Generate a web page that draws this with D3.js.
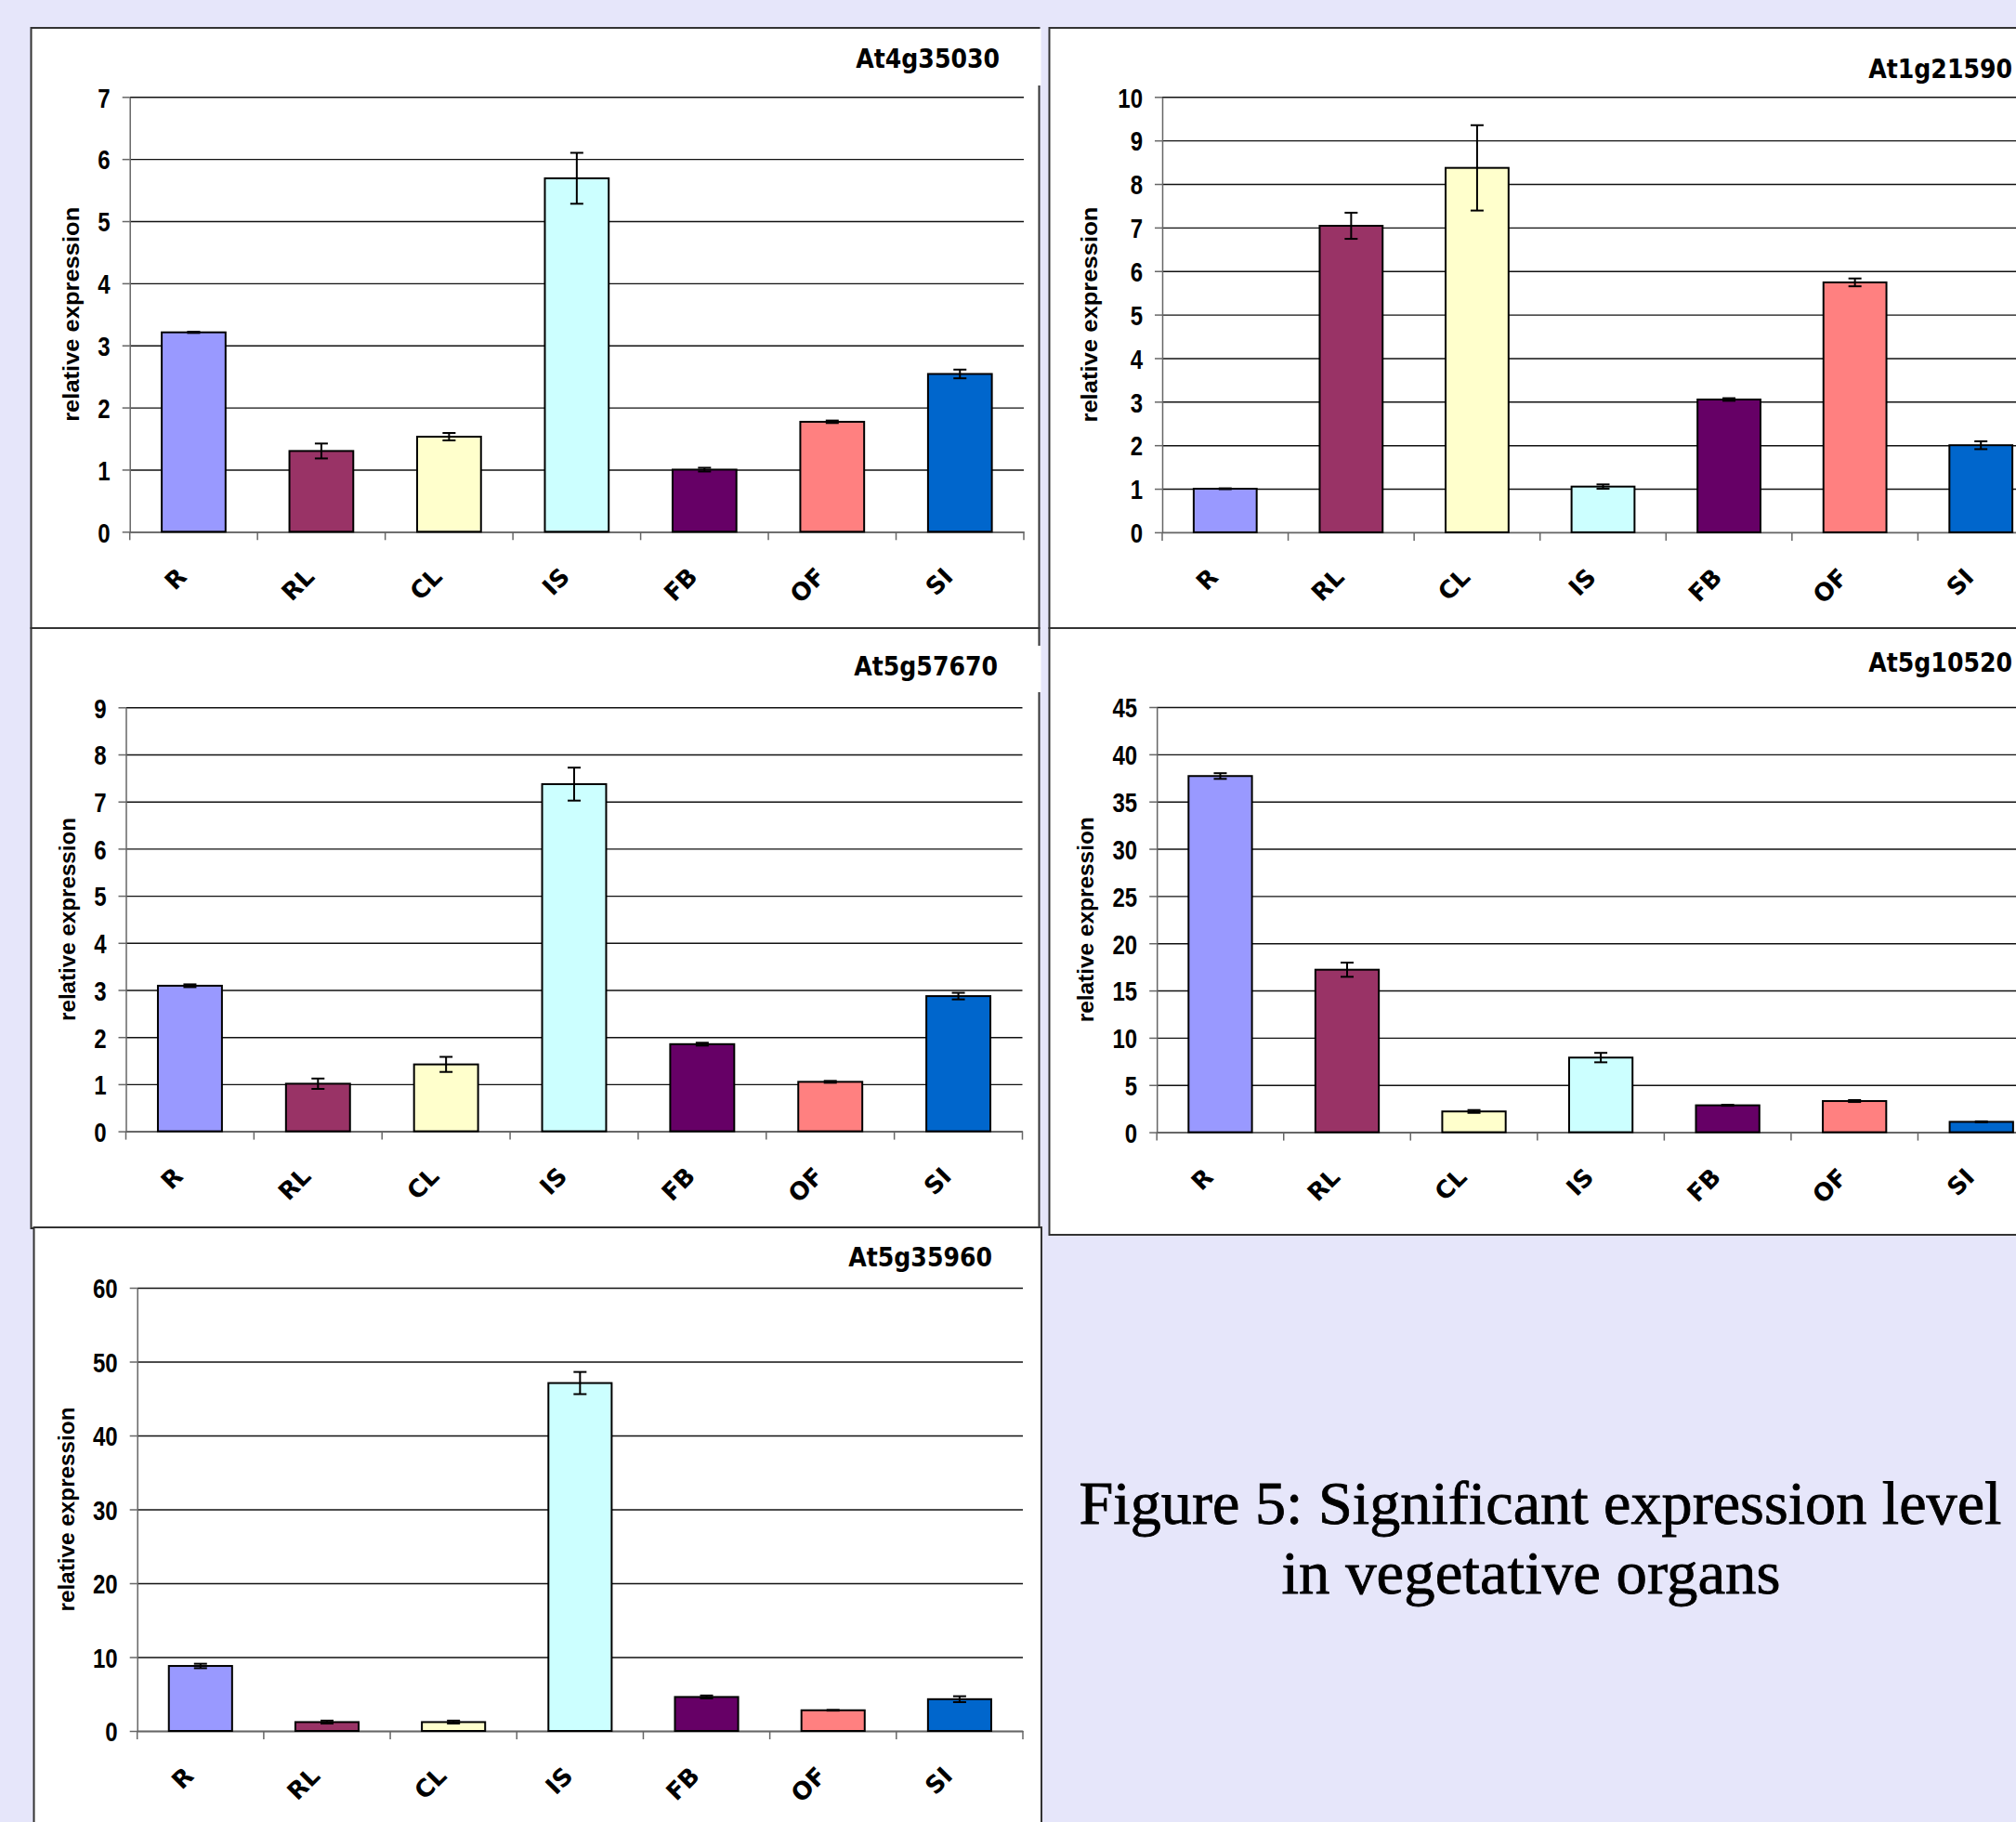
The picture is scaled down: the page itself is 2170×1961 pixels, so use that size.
<!DOCTYPE html>
<html>
<head>
<meta charset="utf-8">
<title>Figure 5: Significant expression level in vegetative organs</title>
<script src="https://cdn.jsdelivr.net/npm/d3@7"></script>
<style>
  body { margin: 0; background: #e6e6fa; }
  svg { display: block; }
  .tick-y { font-family: "Liberation Sans", Arial, sans-serif; font-weight: bold; font-size: 30px; fill: #000; }
  .tick-x { font-family: "DejaVu Sans", Verdana, sans-serif; font-weight: bold; font-size: 26px; fill: #000; }
  .gene { font-family: "DejaVu Sans Condensed", "DejaVu Sans", sans-serif; font-weight: bold; font-size: 28px; fill: #000; }
  .ylab { font-family: "Liberation Sans", Arial, sans-serif; font-weight: bold; font-size: 24px; fill: #000; }
  .caption { font-family: "Liberation Serif", "Times New Roman", serif; font-size: 66px; fill: #000; stroke: #000; stroke-width: 0.8px; }
</style>
</head>
<body>
<div id="fig"></div>
<script>
const width = 2170, height = 1961;

// organs on the x axis and their Excel colours
const organs = ["R", "RL", "CL", "IS", "FB", "OF", "SI"];
const organColors = ["#9999ff", "#993366", "#ffffcc", "#ccffff", "#660066", "#ff8080", "#0066cc"];

// gene panels, in reading order
const genes = ["At4g35030", "At1g21590", "At5g57670", "At5g10520", "At5g35960"];

// relative expression (mean) and error per organ
const at4g35030 = [3.21, 1.30, 1.53, 5.69, 1.00, 1.77, 2.54];
const at4g35030Err = [0.01, 0.12, 0.06, 0.41, 0.03, 0.02, 0.07];
const at1g21590 = [1.00, 7.04, 8.37, 1.05, 3.05, 5.74, 2.00];
const at1g21590Err = [0.01, 0.30, 0.98, 0.05, 0.03, 0.09, 0.09];
const at5g57670 = [3.09, 1.01, 1.42, 7.37, 1.85, 1.05, 2.87];
const at5g57670Err = [0.03, 0.11, 0.16, 0.35, 0.03, 0.02, 0.07];
const at5g10520 = [37.7, 17.2, 2.2, 7.9, 2.85, 3.3, 1.1];
const at5g10520Err = [0.3, 0.75, 0.15, 0.5, 0.05, 0.1, 0.05];
const at5g35960 = [8.8, 1.2, 1.2, 47.1, 4.6, 2.8, 4.3];
const at5g35960Err = [0.3, 0.2, 0.2, 1.5, 0.2, 0.05, 0.4];

// y axis ranges
const yMax = [7, 10, 9, 45, 60];
const yStep = [1, 1, 1, 5, 10];

const values = [at4g35030, at1g21590, at5g57670, at5g10520, at5g35960];
const errors = [at4g35030Err, at1g21590Err, at5g57670Err, at5g10520Err, at5g35960Err];

// where each panel sits on the page
const layout = [
  { box: [33.5, 30, 1118.5, 676], ax: 139.7, right: 1102, top: 104.3, bottom: 572.3, title: [1076, 73], labX: 77, labLen: 231, gap: [31, 92] },
  { box: [1129.5, 30, 2300, 676], ax: 1251, right: 2200, top: 104.3, bottom: 572.9, title: [2166, 84], labX: 1173, labLen: 232 },
  { box: [33.5, 676, 1118.5, 1322], ax: 135.5, right: 1100.5, top: 761.3, bottom: 1217.6, title: [1074, 727], labX: 73, labLen: 219, gap: [695, 745] },
  { box: [1129.5, 676, 2300, 1329], ax: 1245.2, right: 2201, top: 761, bottom: 1218.6, title: [2166, 723], labX: 1169, labLen: 221 },
  { box: [36.5, 1321, 1121, 2100], ax: 147.7, right: 1101, top: 1386, bottom: 1863, title: [1068, 1363], labX: 72, labLen: 220 }
];

const narrow = 0.8; // squeeze for the narrow tick font

const svg = d3.select("#fig").append("svg")
  .attr("width", width)
  .attr("height", height);

svg.append("rect")
  .attr("width", width).attr("height", height)
  .attr("fill", "#e6e6fa");

genes.forEach(function(gene, i) {
  const L = layout[i];
  const g = svg.append("g");

  g.append("rect")
    .attr("x", L.box[0]).attr("y", L.box[1])
    .attr("width", L.box[2] - L.box[0]).attr("height", L.box[3] - L.box[1])
    .attr("fill", "#fff")
    .attr("stroke", "#333")
    .attr("stroke-width", 2);

  // white notch where the title box breaks the frame
  if (L.gap) {
    g.append("rect")
      .attr("x", L.box[2] - 1.5).attr("y", L.gap[0])
      .attr("width", 3.5).attr("height", L.gap[1] - L.gap[0])
      .attr("fill", "#fff");
  }

  const x = d3.scaleBand().domain(organs).range([L.ax, L.right]).padding(0);
  const y = d3.scaleLinear().domain([0, yMax[i]]).range([L.bottom, L.top]);
  const yTicks = d3.range(0, yMax[i] + yStep[i] / 2, yStep[i]);

  // gridlines
  g.append("g")
    .attr("transform", "translate(" + L.ax + ",0)")
    .call(d3.axisRight(y).tickValues(yTicks).tickSize(L.right - L.ax).tickFormat(""))
    .call(s => s.select(".domain").remove())
    .call(s => s.selectAll("line").attr("stroke", "#111").attr("stroke-width", 1.4));

  // y axis
  g.append("g")
    .attr("transform", "translate(" + L.ax + ",0)")
    .call(d3.axisLeft(y).tickValues(yTicks).tickSize(8).tickSizeOuter(0).tickFormat(d3.format("d")))
    .call(s => s.select(".domain").attr("stroke", "#666").attr("stroke-width", 1.5))
    .call(s => s.selectAll("line").attr("stroke", "#666").attr("stroke-width", 1.5))
    .call(s => s.selectAll("text")
      .attr("class", "tick-y")
      .attr("x", -21 / narrow)
      .attr("dy", "0.36em")
      .attr("transform", "scale(" + narrow + ",1)"));

  // x axis: base line and boundary ticks
  g.append("g")
    .attr("transform", "translate(0," + L.bottom + ")")
    .call(d3.axisBottom(x).tickSize(0).tickFormat(""))
    .call(s => s.select(".domain").attr("stroke", "#666").attr("stroke-width", 1.5));
  g.append("g").selectAll("line")
    .data(organs.concat(["end"]))
    .join("line")
    .attr("x1", d => d === "end" ? L.right : x(d))
    .attr("x2", d => d === "end" ? L.right : x(d))
    .attr("y1", L.bottom).attr("y2", L.bottom + 9)
    .attr("stroke", "#666").attr("stroke-width", 1.5);

  // bars
  const bw = x.bandwidth() * 0.5;
  g.append("g").selectAll("rect")
    .data(organs)
    .join("rect")
    .attr("x", d => x(d) + (x.bandwidth() - bw) / 2)
    .attr("y", (d, k) => y(values[i][k]))
    .attr("width", bw)
    .attr("height", (d, k) => y(0) - y(values[i][k]))
    .attr("fill", (d, k) => organColors[k])
    .attr("stroke", "#000")
    .attr("stroke-width", 2);

  // error bars
  const eb = g.append("g").attr("stroke", "#000").attr("stroke-width", 2);
  organs.forEach(function(d, k) {
    const cx = x(d) + x.bandwidth() / 2;
    const hi = y(values[i][k] + errors[i][k]);
    const lo = y(values[i][k] - errors[i][k]);
    eb.append("line").attr("x1", cx).attr("x2", cx).attr("y1", hi).attr("y2", lo);
    eb.append("line").attr("x1", cx - 7).attr("x2", cx + 7).attr("y1", hi).attr("y2", hi);
    eb.append("line").attr("x1", cx - 7).attr("x2", cx + 7).attr("y1", lo).attr("y2", lo);
  });

  // rotated category labels
  g.append("g").selectAll("text")
    .data(organs)
    .join("text")
    .attr("class", "tick-x")
    .attr("text-anchor", "end")
    .attr("transform", d => "translate(" + (x(d) + x.bandwidth() / 2 - 6) + "," + (L.bottom + 50) + ") rotate(-45)")
    .text(d => d);

  // gene title
  g.append("text")
    .attr("class", "gene")
    .attr("x", L.title[0]).attr("y", L.title[1])
    .attr("text-anchor", "end")
    .text(gene);

  // y axis title
  const midY = (L.top + L.bottom) / 2;
  g.append("text")
    .attr("class", "ylab")
    .attr("text-anchor", "middle")
    .attr("transform", "translate(" + (L.labX + 8) + "," + midY + ") rotate(-90)")
    .attr("textLength", L.labLen)
    .attr("lengthAdjust", "spacingAndGlyphs")
    .text("relative expression");
});

// caption
const caption = ["Figure 5: Significant expression level", "in vegetative organs"];
const capLen = [993, 537];
const capX = [1658, 1648];
const capY = [1640, 1715];
svg.append("g").selectAll("text")
  .data(caption)
  .join("text")
  .attr("class", "caption")
  .attr("x", (d, k) => capX[k])
  .attr("y", (d, k) => capY[k])
  .attr("text-anchor", "middle")
  .attr("textLength", (d, k) => capLen[k])
  .attr("lengthAdjust", "spacingAndGlyphs")
  .text(d => d);
</script>
</body>
</html>
